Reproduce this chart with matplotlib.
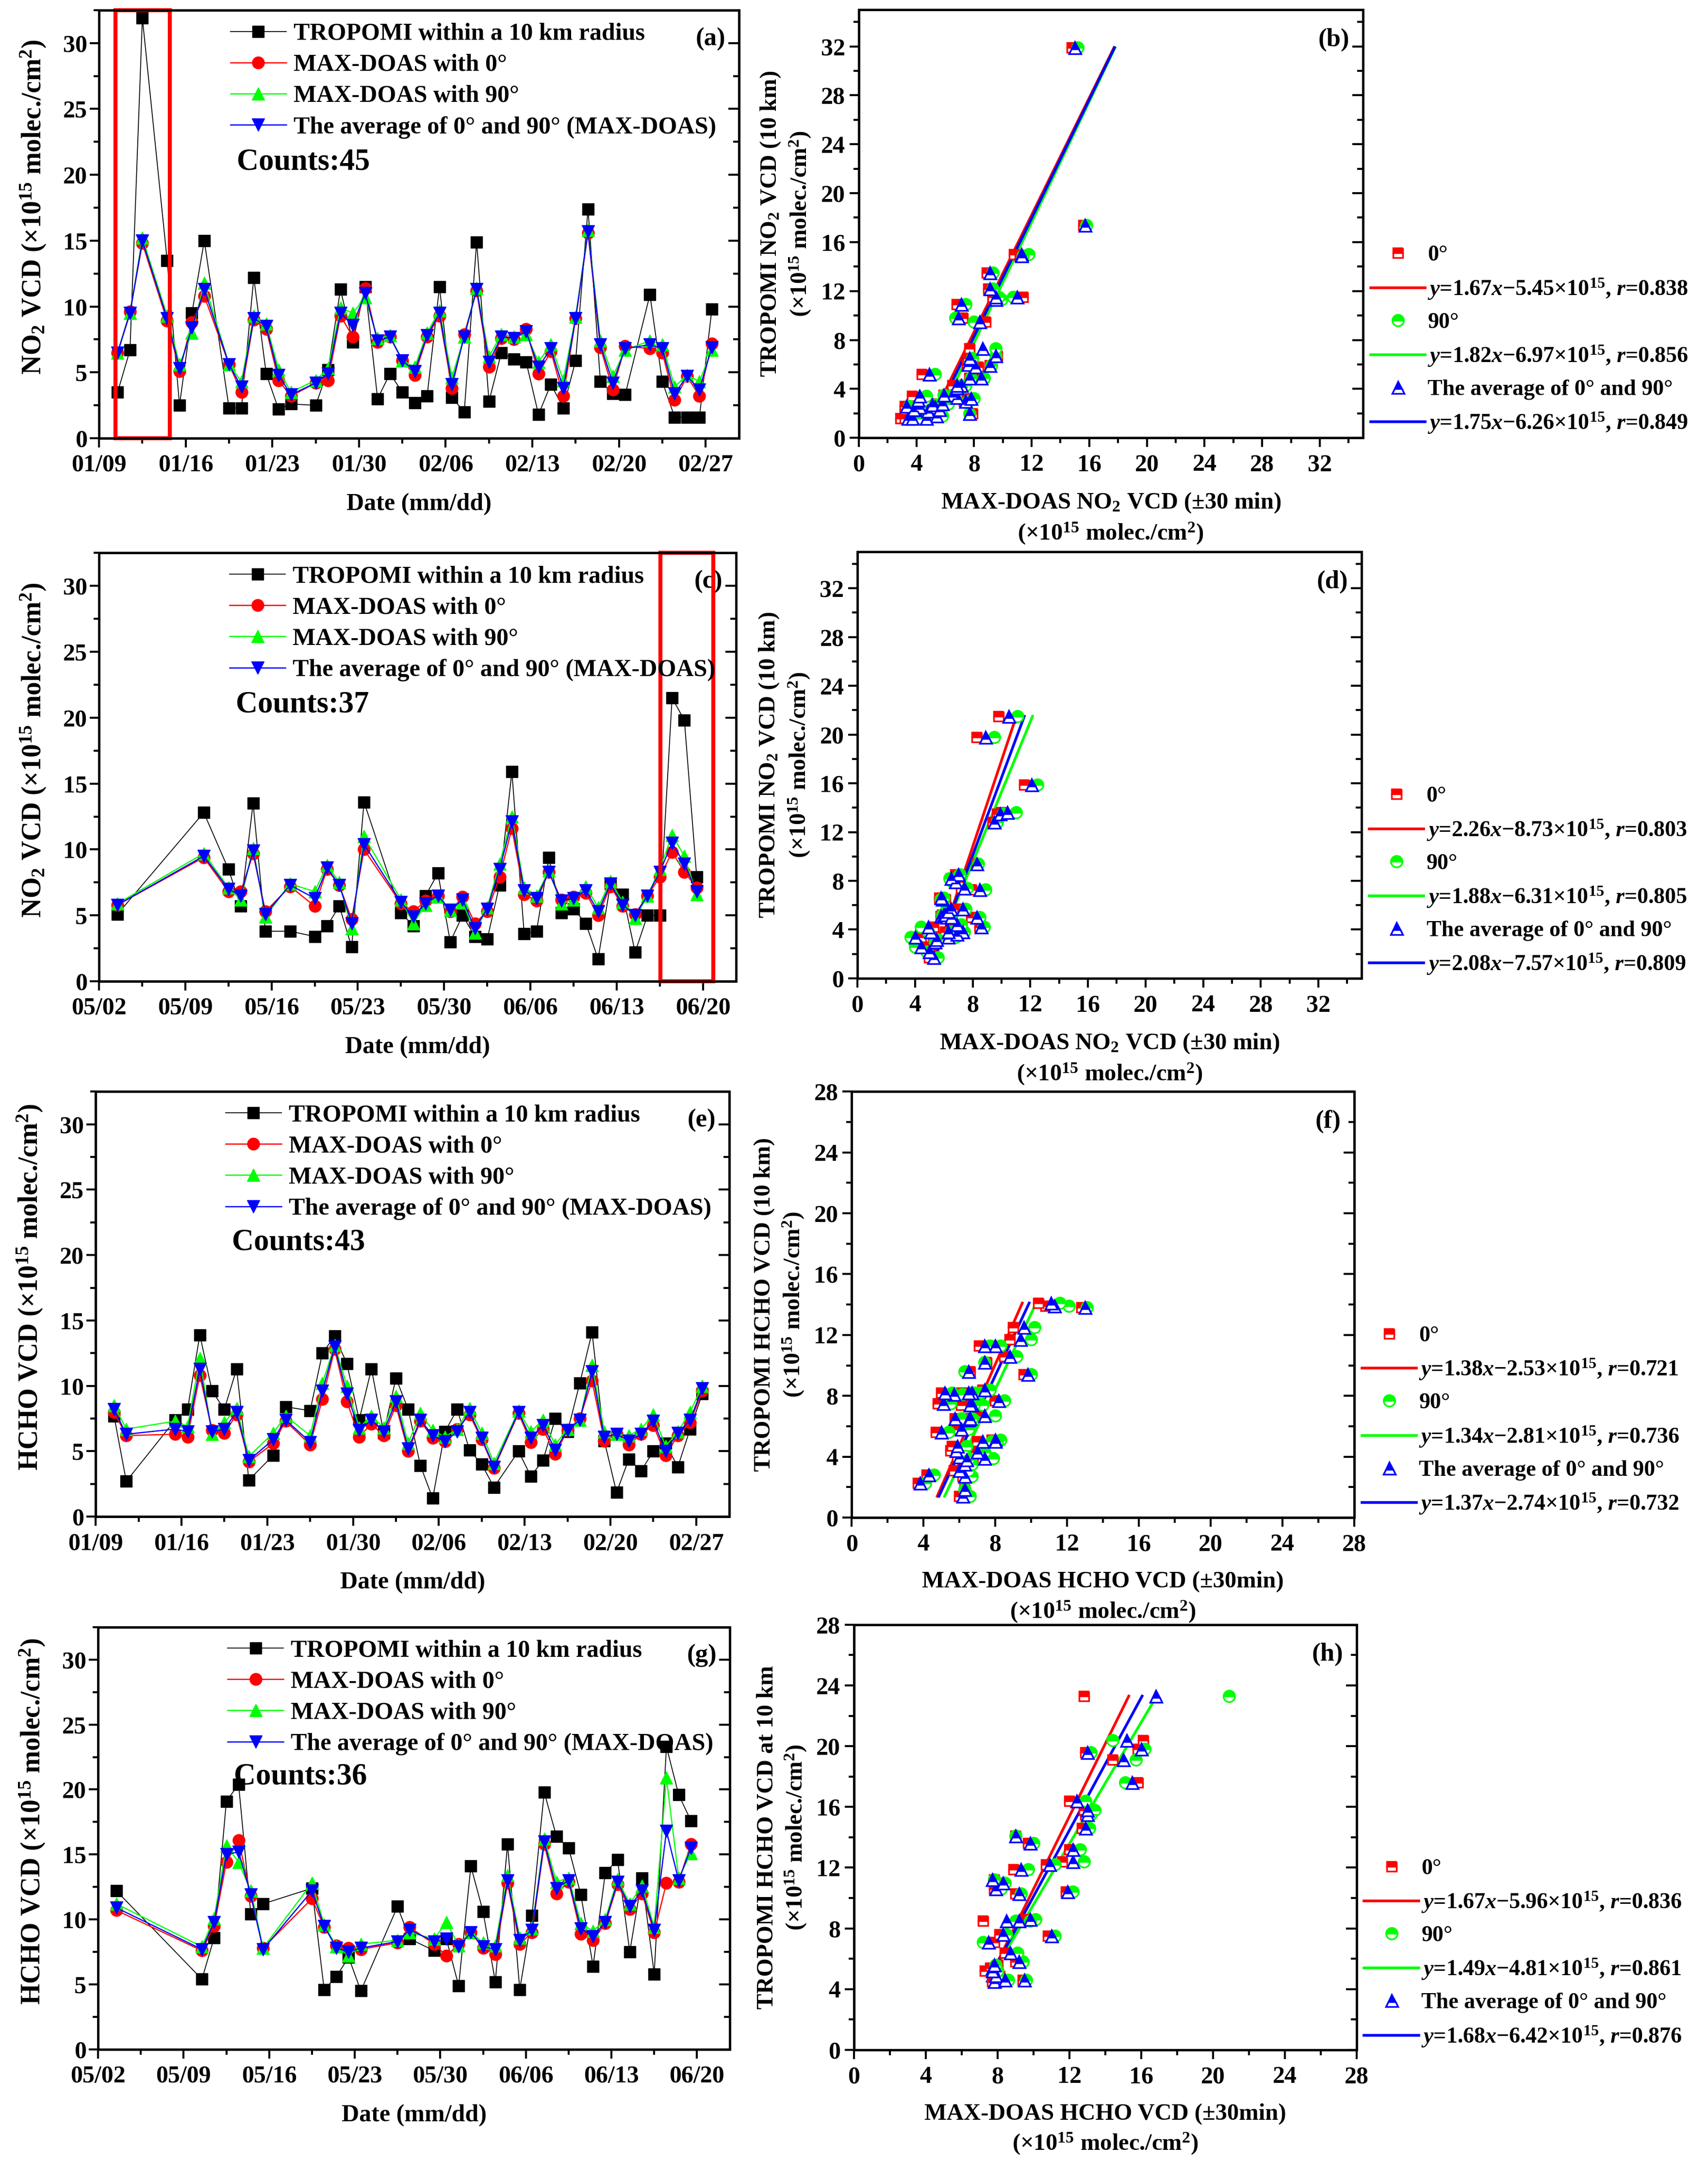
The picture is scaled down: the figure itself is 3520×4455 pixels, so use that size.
import matplotlib
matplotlib.use('Agg')
import matplotlib.pyplot as plt
import matplotlib.dates as mdates
import matplotlib.transforms as mtransforms
from matplotlib.patches import Rectangle
from matplotlib.ticker import FixedLocator, MultipleLocator
import numpy as np
import pandas as pd

plt.rcParams['font.family'] = ['Liberation Serif', 'DejaVu Serif']
plt.rcParams['font.weight'] = 'bold'
plt.rcParams['axes.labelweight'] = 'bold'
plt.rcParams['mathtext.fontset'] = 'custom'
plt.rcParams['mathtext.rm'] = 'Liberation Serif:bold'
plt.rcParams['mathtext.it'] = 'Liberation Serif:italic:bold'
plt.rcParams['mathtext.bf'] = 'Liberation Serif:bold'
plt.rcParams['axes.linewidth'] = 3.5

YEAR = 2020

# ---------------- (a)/(b) NO2, winter ----------------
dates_a = ['01/10', '01/11', '01/12', '01/14', '01/15', '01/16', '01/17', '01/19', '01/20',
           '01/21', '01/22', '01/23', '01/24', '01/26', '01/27', '01/28', '01/29', '01/30',
           '01/31', '02/01', '02/02', '02/03', '02/04', '02/05', '02/06', '02/07', '02/08',
           '02/09', '02/10', '02/11', '02/12', '02/13', '02/14', '02/15', '02/16', '02/17',
           '02/18', '02/19', '02/20', '02/22', '02/23', '02/24', '02/25', '02/26', '02/27']
trop_a = [3.5, 6.7, 31.9, 13.5, 2.5, 9.5, 15.0, 2.3, 2.3, 12.2, 4.9, 2.2, 2.6, 2.5, 5.2,
          11.3, 7.3, 11.5, 3.0, 4.9, 3.5, 2.7, 3.2, 11.5, 3.1, 2.0, 14.9, 2.8, 6.5, 6.0,
          5.8, 1.8, 4.1, 2.3, 5.9, 17.4, 4.3, 3.4, 3.3, 10.9, 4.3, 1.6, 1.6, 1.6, 9.8]
deg0_a = [6.5, 9.6, 14.8, 8.9, 5.1, 8.8, 10.8, 5.6, 3.5, 9.0, 8.3, 4.4, 3.2, 4.2, 4.4,
          9.3, 7.7, 11.4, 7.3, 7.7, 5.9, 4.8, 7.7, 9.3, 3.8, 7.9, 11.2, 5.4, 7.6, 7.5,
          8.3, 4.9, 6.6, 3.2, 9.1, 15.6, 6.9, 3.7, 7.0, 6.8, 6.5, 2.9, 4.7, 3.2, 7.2]
deg90_a = [6.5, 9.5, 15.2, 9.3, 5.6, 8.0, 11.8, 5.6, 4.3, 9.3, 8.7, 5.2, 3.5, 4.4, 5.3,
           9.9, 9.5, 10.7, 7.6, 7.8, 5.9, 5.4, 8.0, 9.7, 4.6, 7.7, 11.4, 6.2, 7.9, 7.7,
           7.9, 5.8, 7.1, 4.4, 9.2, 15.8, 7.4, 4.7, 6.7, 7.4, 7.1, 3.9, 4.8, 4.3, 6.7]
avg_a = [6.5, 9.5, 15.0, 9.1, 5.3, 8.4, 11.3, 5.6, 3.9, 9.1, 8.5, 4.8, 3.3, 4.2, 4.9,
         9.5, 8.6, 11.0, 7.4, 7.7, 5.9, 5.1, 7.8, 9.5, 4.1, 7.7, 11.3, 5.8, 7.7, 7.6,
         8.1, 5.4, 6.8, 3.8, 9.1, 15.7, 7.1, 4.2, 6.8, 7.1, 6.8, 3.4, 4.7, 3.7, 6.9]

# ---------------- (c)/(d) NO2, summer ----------------
dates_c = ['05/03', '05/10', '05/12', '05/13', '05/14', '05/15', '05/17', '05/19', '05/20',
           '05/21', '05/22', '05/23', '05/26', '05/27', '05/28', '05/29', '05/30', '05/31',
           '06/01', '06/02', '06/03', '06/04', '06/05', '06/06', '06/07', '06/08', '06/09',
           '06/10', '06/11', '06/12', '06/13', '06/14', '06/15', '06/16', '06/17', '06/18',
           '06/19']
trop_c = [5.1, 12.8, 8.5, 5.7, 13.5, 3.8, 3.8, 3.4, 4.2, 5.7, 2.6, 13.6, 5.2, 4.2, 6.5,
          8.2, 3.0, 5.0, 3.4, 3.2, 7.3, 15.9, 3.6, 3.8, 9.4, 5.2, 5.5, 4.4, 1.7, 7.4,
          6.6, 2.2, 5.0, 5.0, 21.5, 19.8, 7.9]
deg0_c = [5.8, 9.4, 6.8, 6.8, 9.7, 5.3, 7.2, 5.7, 8.5, 7.3, 4.7, 10.0, 5.9, 5.3, 6.1,
          6.5, 5.3, 6.4, 4.4, 5.3, 7.9, 11.6, 6.6, 6.1, 8.3, 6.2, 6.4, 6.7, 5.0, 7.2,
          5.7, 5.1, 6.5, 7.9, 9.8, 8.3, 7.1]
deg90_c = [5.9, 9.7, 7.1, 6.2, 10.1, 4.9, 7.4, 6.8, 8.8, 7.5, 4.0, 11.0, 6.2, 4.4, 5.8,
           6.4, 5.4, 6.0, 3.7, 5.6, 8.9, 12.5, 7.1, 6.5, 8.4, 5.9, 6.2, 7.2, 5.6, 7.6,
           6.0, 4.8, 6.5, 8.5, 11.1, 9.5, 6.6]
avg_c = [5.8, 9.5, 7.0, 6.5, 9.9, 5.1, 7.3, 6.3, 8.6, 7.3, 4.4, 10.4, 6.0, 4.9, 5.9,
         6.5, 5.4, 6.2, 4.0, 5.5, 8.5, 12.1, 6.9, 6.3, 8.3, 6.1, 6.3, 6.9, 5.3, 7.4,
         5.8, 5.0, 6.5, 8.3, 10.5, 8.9, 6.8]

# ---------------- (e)/(f) HCHO, winter ----------------
dates_e = ['01/10', '01/11', '01/15', '01/16', '01/17', '01/18', '01/19', '01/20', '01/21',
           '01/23', '01/24', '01/26', '01/27', '01/28', '01/29', '01/30', '01/31', '02/01',
           '02/02', '02/03', '02/04', '02/05', '02/06', '02/07', '02/08', '02/09', '02/10',
           '02/12', '02/13', '02/14', '02/15', '02/16', '02/17', '02/18', '02/19', '02/20',
           '02/21', '02/22', '02/23', '02/24', '02/25', '02/26', '02/27']
trop_e = [7.7, 2.7, 7.4, 8.2, 13.9, 9.6, 8.2, 11.3, 2.8, 4.7, 8.4, 8.1, 12.5, 13.8, 11.7,
          7.4, 11.3, 6.4, 10.6, 8.2, 3.9, 1.4, 6.5, 8.2, 5.1, 4.0, 2.25, 5.0, 3.1, 4.3,
          7.5, 6.5, 10.2, 14.1, 5.8, 1.85, 4.4, 3.5, 5.0, 5.6, 3.8, 6.7, 9.4]
deg0_e = [8.0, 6.2, 6.3, 6.1, 10.8, 6.6, 6.4, 7.8, 4.2, 5.6, 7.3, 5.5, 9.0, 12.8, 8.8,
          6.1, 7.1, 6.2, 8.5, 5.0, 7.3, 6.0, 5.75, 6.7, 7.8, 5.9, 3.7, 7.9, 5.7, 6.7,
          4.8, 6.6, 7.5, 10.4, 5.8, 6.3, 5.5, 6.3, 7.0, 4.7, 6.2, 7.2, 9.6]
deg90_e = [8.5, 6.7, 7.3, 6.9, 12.1, 6.3, 7.2, 8.3, 4.6, 6.4, 7.7, 6.2, 10.2, 13.1, 10.0,
           6.8, 7.7, 6.8, 9.2, 5.6, 7.9, 6.6, 6.1, 6.7, 8.3, 6.4, 4.1, 8.1, 6.5, 7.4,
           5.5, 6.7, 7.4, 11.6, 6.5, 6.3, 6.2, 6.7, 7.8, 5.4, 6.5, 8.0, 10.0]
avg_e = [8.2, 6.3, 6.7, 6.5, 11.3, 6.5, 6.7, 8.0, 4.3, 5.9, 7.4, 5.7, 9.6, 13.0, 9.4,
         6.6, 7.4, 6.5, 8.8, 5.2, 7.4, 6.2, 5.75, 6.5, 8.0, 6.0, 3.8, 8.0, 6.0, 7.0,
         5.1, 6.6, 7.4, 11.1, 6.1, 6.3, 5.8, 6.3, 7.3, 5.0, 6.4, 7.4, 9.8]

# ---------------- (g)/(h) HCHO, summer ----------------
dates_g = ['05/03', '05/10', '05/11', '05/12', '05/13', '05/14', '05/15', '05/19', '05/20',
           '05/21', '05/22', '05/23', '05/26', '05/27', '05/29', '05/30', '05/31', '06/01',
           '06/02', '06/03', '06/04', '06/05', '06/06', '06/07', '06/08', '06/09', '06/10',
           '06/11', '06/12', '06/13', '06/14', '06/15', '06/16', '06/17', '06/18', '06/19']
trop_g = [12.2, 5.4, 8.6, 19.1, 20.4, 10.4, 11.2, 12.4, 4.6, 5.6, 7.1, 4.5, 11.0, 8.5,
          7.6, 8.5, 4.9, 14.1, 10.6, 5.2, 15.8, 4.6, 10.3, 19.8, 16.4, 15.5, 11.9, 6.4,
          13.6, 14.6, 7.5, 13.2, 5.8, 23.3, 19.6, 17.6]
deg0_g = [10.7, 7.6, 9.5, 14.4, 16.1, 11.8, 7.8, 11.6, 9.4, 8.0, 7.8, 7.7, 8.2, 9.4,
          8.1, 7.2, 8.1, 9.0, 7.8, 7.3, 12.8, 8.1, 9.0, 15.8, 12.0, 12.9, 8.9, 8.4,
          9.7, 12.7, 10.8, 12.0, 9.0, 12.8, 12.9, 15.8]
deg90_g = [11.2, 7.9, 10.1, 15.7, 14.4, 12.2, 7.8, 12.8, 9.6, 7.9, 7.2, 8.1, 8.4, 9.0,
           8.5, 9.8, 8.0, 9.0, 8.2, 8.0, 13.4, 8.6, 9.3, 16.2, 12.9, 13.2, 9.7, 9.1,
           10.0, 13.1, 11.2, 12.6, 9.4, 20.9, 13.2, 15.1]
avg_g = [10.9, 7.7, 9.8, 15.0, 15.2, 11.9, 7.7, 12.2, 9.5, 7.8, 7.5, 7.8, 8.3, 9.2,
         8.3, 8.5, 7.9, 9.0, 7.9, 7.7, 13.0, 8.4, 9.2, 16.0, 12.4, 13.0, 9.3, 8.7,
         9.8, 12.9, 11.0, 12.2, 9.2, 16.8, 13.0, 15.5]

# regression equations as printed in the scatter legends
eqs_b = ['$y$=1.67$x$\u22125.45\u00d710$^{15}$, $r$=0.838',
         '$y$=1.82$x$\u22126.97\u00d710$^{15}$, $r$=0.856',
         '$y$=1.75$x$\u22126.26\u00d710$^{15}$, $r$=0.849']
eqs_d = ['$y$=2.26$x$\u22128.73\u00d710$^{15}$, $r$=0.803',
         '$y$=1.88$x$\u22126.31\u00d710$^{15}$, $r$=0.805',
         '$y$=2.08$x$\u22127.57\u00d710$^{15}$, $r$=0.809']
eqs_f = ['$y$=1.38$x$\u22122.53\u00d710$^{15}$, $r$=0.721',
         '$y$=1.34$x$\u22122.81\u00d710$^{15}$, $r$=0.736',
         '$y$=1.37$x$\u22122.74\u00d710$^{15}$, $r$=0.732']
eqs_h = ['$y$=1.67$x$\u22125.96\u00d710$^{15}$, $r$=0.836',
         '$y$=1.49$x$\u22124.81\u00d710$^{15}$, $r$=0.861',
         '$y$=1.68$x$\u22126.42\u00d710$^{15}$, $r$=0.876']

ts_labels = ['TROPOMI within a 10 km radius', 'MAX-DOAS with 0\u00b0',
             'MAX-DOAS with 90\u00b0', 'The average of 0\u00b0 and 90\u00b0 (MAX-DOAS)']
sc_names = ['0\u00b0', '90\u00b0', 'The average of 0\u00b0 and 90\u00b0']

GREEN = '#00FF00'
UNIT = '(\u00d710$^{15}$ molec./cm$^2$)'

fig = plt.figure(figsize=(35.2, 44.55), dpi=100)


def right_ticks(ax, major, minor, lim):
    # inward ticks on the right spine, no labels
    tw = ax.twinx()
    tw.set_ylim(lim)
    tw.yaxis.set_major_locator(FixedLocator(major))
    tw.yaxis.set_minor_locator(FixedLocator(minor))
    tw.tick_params(axis='y', which='both', direction='in', labelright=False, width=3)
    tw.tick_params(axis='y', which='major', length=16)
    tw.tick_params(axis='y', which='minor', length=9)


def ts_panel(rect, start, dates, trop, d0, d90, avg, ylabel, tag, counts, box=None):
    ax = fig.add_axes(rect)
    t0 = pd.Timestamp(f'{YEAR}/{start}')
    x = mdates.date2num(pd.to_datetime([f'{YEAR}/{d}' for d in dates]) + pd.Timedelta(hours=12))
    x0 = mdates.date2num(t0)
    h1, = ax.plot(x, trop, '-s', color='black', lw=1.3, ms=17)
    h2, = ax.plot(x, d0, '-o', color='red', lw=1.8, ms=18)
    h3, = ax.plot(x, d90, '-^', color=GREEN, lw=1.8, ms=19)
    h4, = ax.plot(x, avg, '-v', color='blue', lw=1.8, ms=19)
    ax.set_xlim(x0, x0 + 51.7)
    ax.set_ylim(0, 32.5)
    ax.xaxis.set_major_locator(FixedLocator([x0 + 7 * k for k in range(8)]))
    ax.xaxis.set_minor_locator(FixedLocator([x0 + 3.5 + 7 * k for k in range(8)]))
    ax.xaxis.set_major_formatter(mdates.DateFormatter('%m/%d'))
    ax.yaxis.set_major_locator(MultipleLocator(5))
    ax.yaxis.set_minor_locator(MultipleLocator(2.5))
    ax.tick_params(which='both', direction='out', width=3, labelsize=36, top=False, right=False)
    ax.tick_params(which='major', length=14)
    ax.tick_params(which='minor', length=8)
    ax.tick_params(axis='x', pad=10)
    right_ticks(ax, np.arange(0, 31, 5), np.arange(2.5, 32.5, 5), (0, 32.5))
    ax.set_xlabel('Date (mm/dd)', fontsize=36, labelpad=24)
    ax.set_ylabel(ylabel, fontsize=40, labelpad=22)
    ax.yaxis.label.set_y(0.54)
    ax.legend([h1, h2, h3, h4], ts_labels, loc='upper left', bbox_to_anchor=(0.205, 0.97),
              frameon=False, fontsize=36, handlelength=2.3, handletextpad=0.3,
              labelspacing=0.36, borderpad=0, borderaxespad=0)
    ax.text(0.979, 0.932, tag, transform=ax.transAxes, ha='right', va='center', fontsize=38)
    ax.text(0.215, 0.645, counts, transform=ax.transAxes, ha='left', va='center', fontsize=45)
    if box is not None:
        trans = mtransforms.blended_transform_factory(ax.transData, ax.transAxes)
        ax.add_patch(Rectangle((x0 + box[0], 0), box[1] - box[0], 1, transform=trans,
                               fill=False, ec='red', lw=6, clip_on=False, zorder=5))
    return ax


def sc_panel(rect, trop, d0, d90, avg, lim, xlabel, ylabel, tag, eqs):
    ax = fig.add_axes(rect)
    series = [(d0, 's', 'red', 15), (d90, 'o', GREEN, 17), (avg, '^', 'blue', 18)]
    marks = []
    for xs, m, c, ms in series:
        mk, = ax.plot(xs, trop, ls='none', marker=m, ms=ms, mfc=c, mfcalt='white',
                      fillstyle='top', mec=c, mew=2.5, zorder=2)
        marks.append(mk)
    lines = []
    yy = np.array([min(trop), max(trop)])
    for xs, m, c, ms in series:
        a, b = np.polyfit(trop, xs, 1)
        ln, = ax.plot(a * yy + b, yy, color=c, lw=4, zorder=1.5)
        lines.append(ln)
    ax.set_xlim(0, lim)
    ax.set_ylim(0, lim)
    top = 32 if lim > 30 else 28
    ax.xaxis.set_major_locator(FixedLocator(np.arange(0, top + 1, 4)))
    ax.xaxis.set_minor_locator(FixedLocator(np.arange(2, lim, 4)))
    ax.yaxis.set_major_locator(FixedLocator(np.arange(0, top + 1, 4)))
    ax.yaxis.set_minor_locator(FixedLocator(np.arange(2, lim, 4)))
    ax.tick_params(which='both', direction='out', width=3, labelsize=36, top=False, right=False)
    ax.tick_params(which='major', length=14)
    ax.tick_params(which='minor', length=8)
    ax.tick_params(axis='x', pad=10)
    ax.tick_params(axis='y', pad=6)
    right_ticks(ax, np.arange(0, top + 1, 4), np.arange(2, lim, 4), (0, lim))
    ax.set_xlabel(xlabel + '\n' + UNIT, fontsize=35, labelpad=22, linespacing=1.35)
    ax.set_ylabel(ylabel + '\n' + UNIT, fontsize=35, labelpad=12, linespacing=1.3)
    handles, labels = [], []
    for mk, ln, name, eq in zip(marks, lines, sc_names, eqs):
        handles += [mk, ln]
        labels += [name, eq]
    ax.legend(handles, labels, loc='upper left', bbox_to_anchor=(1.015, 0.45),
              frameon=False, fontsize=33, handlelength=2.45, handletextpad=0.12,
              labelspacing=0.5, borderpad=0, borderaxespad=0)
    ax.text(0.973, 0.93, tag, transform=ax.transAxes, ha='right', va='center', fontsize=38)
    return ax


no2_ts = 'NO$_2$ VCD ' + UNIT
hcho_ts = 'HCHO VCD ' + UNIT

ts_panel([0.058, 0.7973, 0.3747, 0.198], '01/09', dates_a, trop_a, deg0_a, deg90_a, avg_a,
         no2_ts, '(a)', 'Counts:45', box=(1.33, 5.72))
sc_panel([0.5028, 0.7975, 0.2952, 0.198], trop_a, deg0_a, deg90_a, avg_a, 35,
         'MAX-DOAS NO$_2$ VCD (\u00b130 min)', 'TROPOMI NO$_2$ VCD (10 km)', '(b)', eqs_b)

ts_panel([0.058, 0.5461, 0.373, 0.1982], '05/02', dates_c, trop_c, deg0_c, deg90_c, avg_c,
         no2_ts, '(c)', 'Counts:37', box=(45.57, 49.86))
sc_panel([0.502, 0.5475, 0.2952, 0.1973], trop_c, deg0_c, deg90_c, avg_c, 35,
         'MAX-DOAS NO$_2$ VCD (\u00b130 min)', 'TROPOMI NO$_2$ VCD (10 km)', '(d)', eqs_d)

ts_panel([0.056, 0.2985, 0.371, 0.1966], '01/09', dates_e, trop_e, deg0_e, deg90_e, avg_e,
         hcho_ts, '(e)', 'Counts:43')
sc_panel([0.4986, 0.2981, 0.2943, 0.197], trop_e, deg0_e, deg90_e, avg_e, 28,
         'MAX-DOAS HCHO VCD (\u00b130min)', 'TROPOMI HCHO VCD (10 km)', '(f)', eqs_f)

ts_panel([0.0574, 0.0521, 0.370, 0.1953], '05/02', dates_g, trop_g, deg0_g, deg90_g, avg_g,
         hcho_ts, '(g)', 'Counts:36')
sc_panel([0.5, 0.0519, 0.2943, 0.1966], trop_g, deg0_g, deg90_g, avg_g, 28,
         'MAX-DOAS HCHO VCD (\u00b130min)', 'TROPOMI HCHO VCD at 10 km', '(h)', eqs_h)

fig.savefig('out.png', dpi=100)
